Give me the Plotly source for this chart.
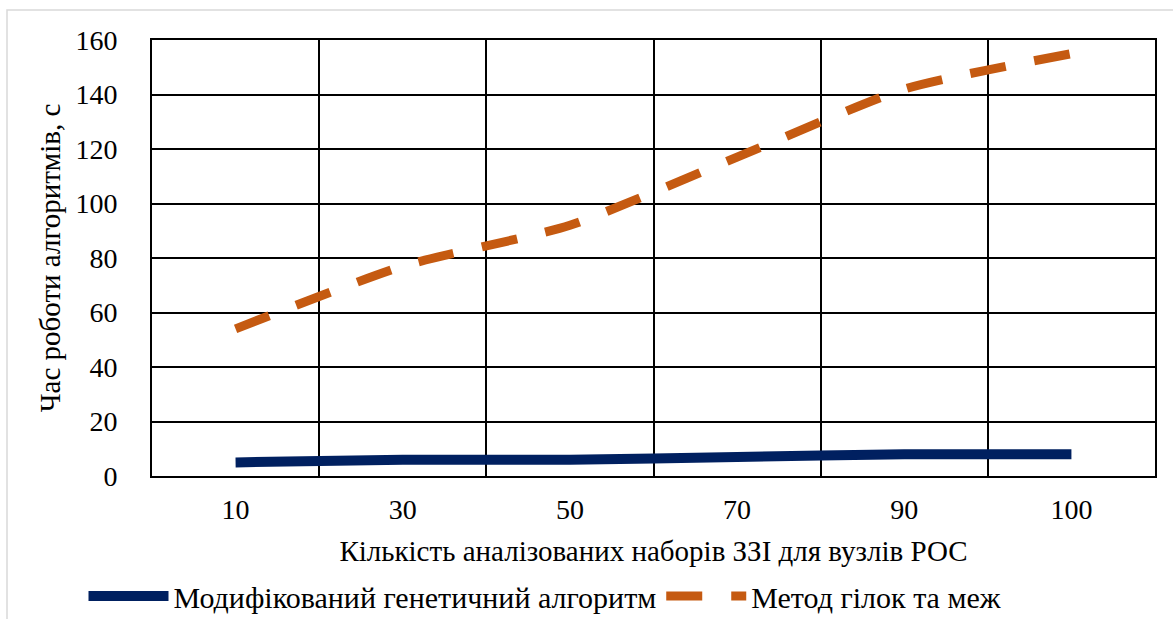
import plotly.graph_objects as go

categories = ["10", "30", "50", "70", "90", "100"]
genetic = [5, 6, 6, 7, 8, 8]
branch_bound = [54, 77, 92, 117, 142, 155]
y_ticks = [0, 20, 40, 60, 80, 100, 120, 140, 160]

FONT = "Liberation Serif"
W, H = 1173, 619
L, R, T, B = 152, 18, 40, 143
pw, ph = W - L - R, H - T - B

fig = go.Figure()
fig.add_trace(go.Scatter(
    x=categories, y=genetic, mode="lines", name="Модифікований генетичний алгоритм",
    line=dict(color="#002060", width=10, shape="spline", smoothing=0.6),
))
fig.add_trace(go.Scatter(
    x=categories, y=branch_bound, mode="lines", name="Метод гілок та меж",
    line=dict(color="#C55A11", width=9, dash="36px,29px", shape="spline", smoothing=0.6),
))

def px_x(p):
    return (p - L) / pw

def px_y(p):
    return (H - B - p) / ph

fig.add_shape(type="rect", xref="paper", yref="paper",
              x0=px_x(7), x1=px_x(1180), y0=px_y(10), y1=px_y(630),
              line=dict(color="#d9d9d9", width=1.5), fillcolor="rgba(0,0,0,0)", layer="below")

fig.update_layout(
    width=W, height=H,
    margin=dict(l=L, r=R, t=T, b=B, autoexpand=False),
    paper_bgcolor="white", plot_bgcolor="white",
    font=dict(family=FONT, size=28, color="black"),
    showlegend=True,
    legend=dict(orientation="h", x=px_x(545), xanchor="center", y=px_y(596), yanchor="middle",
                font=dict(family=FONT, size=30, color="black"), itemwidth=80,
                bgcolor="rgba(0,0,0,0)", tracegroupgap=0),
    xaxis=dict(
        type="category", tickson="boundaries", showgrid=True, gridcolor="black", gridwidth=1.5,
        showline=True, linecolor="black", linewidth=2, mirror=True, ticks="",
        ticklabelstandoff=7, tickfont=dict(family=FONT, size=28), automargin=False,
        title=dict(text="Кількість аналізованих наборів ЗЗІ для вузлів РОС", standoff=17,
                   font=dict(family=FONT, size=29)),
        range=[-0.5, 5.5],
    ),
    yaxis=dict(
        range=[0, 160], tickvals=y_ticks, showgrid=True, gridcolor="black", gridwidth=1.5,
        showline=True, linecolor="black", linewidth=2, mirror=True, ticks="",
        ticklabelstandoff=27, tickfont=dict(family=FONT, size=28), zeroline=False, automargin=False,
        title=dict(text="Час роботи алгоритмів, с", standoff=6, font=dict(family=FONT, size=29)),
    ),
)

fig.write_html("out.html", config={"displayModeBar": False},
               post_script="document.body.style.margin='0';document.body.style.overflow='hidden';")
